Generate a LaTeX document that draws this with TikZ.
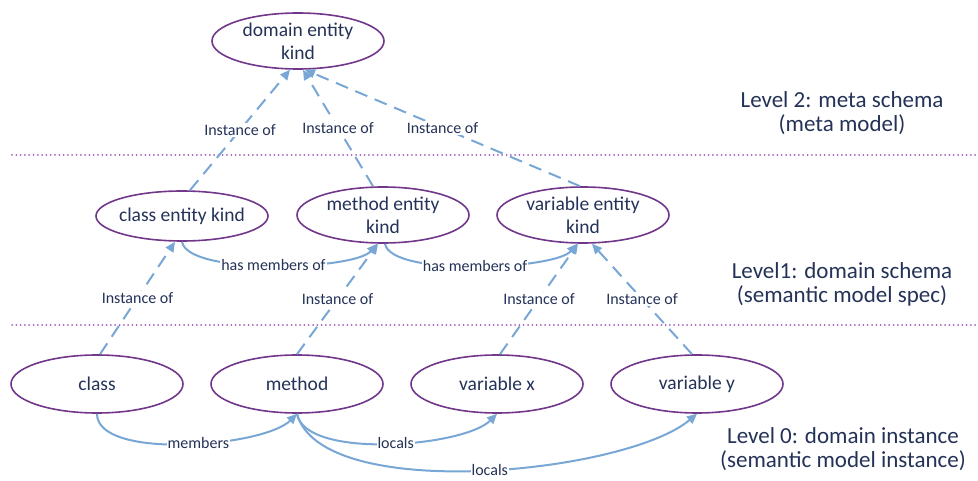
\documentclass[tikz,border=0pt]{standalone}
\usepackage{fontspec}
\setmainfont{Carlito}
\usetikzlibrary{shapes.geometric,arrows.meta}
\definecolor{entline}{RGB}{112,55,138}
\definecolor{inktext}{RGB}{36,50,88}
\definecolor{linkblue}{RGB}{120,167,214}
\definecolor{sepdots}{RGB}{160,95,185}

\begin{document}
\begin{tikzpicture}[x=1pt,y=-1pt,
  ent/.style={ellipse, draw=entline, line width=1.6pt, minimum width=172pt, minimum height=56pt, inner sep=0pt},
  enttext/.style={text=inktext, font=\fontsize{19.5}{23}\selectfont, align=center, inner sep=0pt},
  lvl/.style={text=inktext, font=\fontsize{23}{24}\selectfont, align=center},
  lbl/.style={text=inktext, font=\fontsize{16}{19}\selectfont, fill=white, inner sep=1pt},
  inst/.style={draw=linkblue, line width=2pt, dash pattern=on 13pt off 8pt, -{Triangle[length=10pt,width=9pt]}},
  rel/.style={draw=linkblue, line width=2pt, -{Triangle[length=10pt,width=9pt]}},
  sep/.style={draw=sepdots, line width=2pt, line cap=round, dash pattern=on 0pt off 4.3pt}
]
\useasboundingbox (0,0) rectangle (978,481);

% level separators
\coordinate (s2a) at (12,155);
\coordinate (s2b) at (978,155);
\coordinate (s1a) at (12,325);
\coordinate (s1b) at (978,325);
\draw[sep] (s2a) -- (s2b);
\draw[sep] (s1a) -- (s1b);

% level 2
\node[ent] (dek) at (298,41) {};
\node[enttext] (dek-t) at (dek) {domain entity\\kind};

% level 1
\node[ent, minimum height=50pt] (cek) at (182,216) {};
\node[enttext] (cek-t) at (cek) {class entity kind};
\node[ent] (mek) at (383,215) {};
\node[enttext] (mek-t) at (mek) {method entity\\kind};
\node[ent] (vek) at (583,215) {};
\node[enttext] (vek-t) at (vek) {variable entity\\kind};

% level 0
\node[ent, minimum height=58pt] (cl) at (97,384) {};
\node[enttext] (cl-t) at (cl) {class};
\node[ent, minimum height=58pt] (me) at (297,384) {};
\node[enttext] (me-t) at (me) {method};
\node[ent, minimum height=58pt] (vx) at (497,384) {};
\node[enttext] (vx-t) at (vx) {variable x};
\node[ent, minimum height=58pt] (vy) at (697,384) {};
\node[enttext] (vy-t) at (vy) {variable y};

% instance-of links, level 1 -> level 2
\draw[inst] ([xshift=8pt]cek.north) -- node[lbl]{Instance of} ([xshift=-8pt]dek.south);
\draw[inst] ([xshift=-10pt]mek.north) -- node[lbl]{Instance of} ([xshift=5pt]dek.south);
\draw[inst] ([xshift=-3pt]vek.north) -- node[lbl]{Instance of} ([xshift=7pt]dek.south);

% instance-of links, level 0 -> level 1
\draw[inst] ([xshift=3pt]cl.north) -- node[lbl]{Instance of} ([xshift=-7pt]cek.south);
\draw[inst] (me.north) -- node[lbl]{Instance of} ([xshift=-5pt]mek.south);
\draw[inst] ([xshift=3pt]vx.north) -- node[lbl]{Instance of} ([xshift=-5pt]vek.south);
\draw[inst] ([xshift=-5pt]vy.north) -- node[lbl]{Instance of} ([xshift=9pt]vek.south);

% membership relations on level 1
\draw[rel] (cek.south) to[out=-80,in=-130,looseness=0.45] node[lbl]{has members of} ([xshift=-6pt]mek.south);
\draw[rel] ([xshift=2pt]mek.south) to[out=-80,in=-130,looseness=0.45] node[lbl]{has members of} ([xshift=-6pt]vek.south);

% relations on level 0
\draw[rel] (cl.south) to[out=-90,in=-135,looseness=0.6] node[lbl,pos=0.55]{members} (me.south);
\draw[rel] (me.south) to[out=-80,in=-135,looseness=0.6] node[lbl,pos=0.53]{locals} (vx.south);
\draw[rel] (me.south) to[out=-75,in=-140,looseness=0.6] node[lbl,pos=0.52]{locals} (vy.south);

% level captions
\node[lvl] (cap2) at (842,113) {Level 2: meta schema\\(meta model)};
\node[lvl] (cap1) at (842,284) {Level1: domain schema\\(semantic model spec)};
\node[lvl] (cap0) at (843,449) {Level 0: domain instance\\(semantic model instance)};
\end{tikzpicture}
\end{document}
